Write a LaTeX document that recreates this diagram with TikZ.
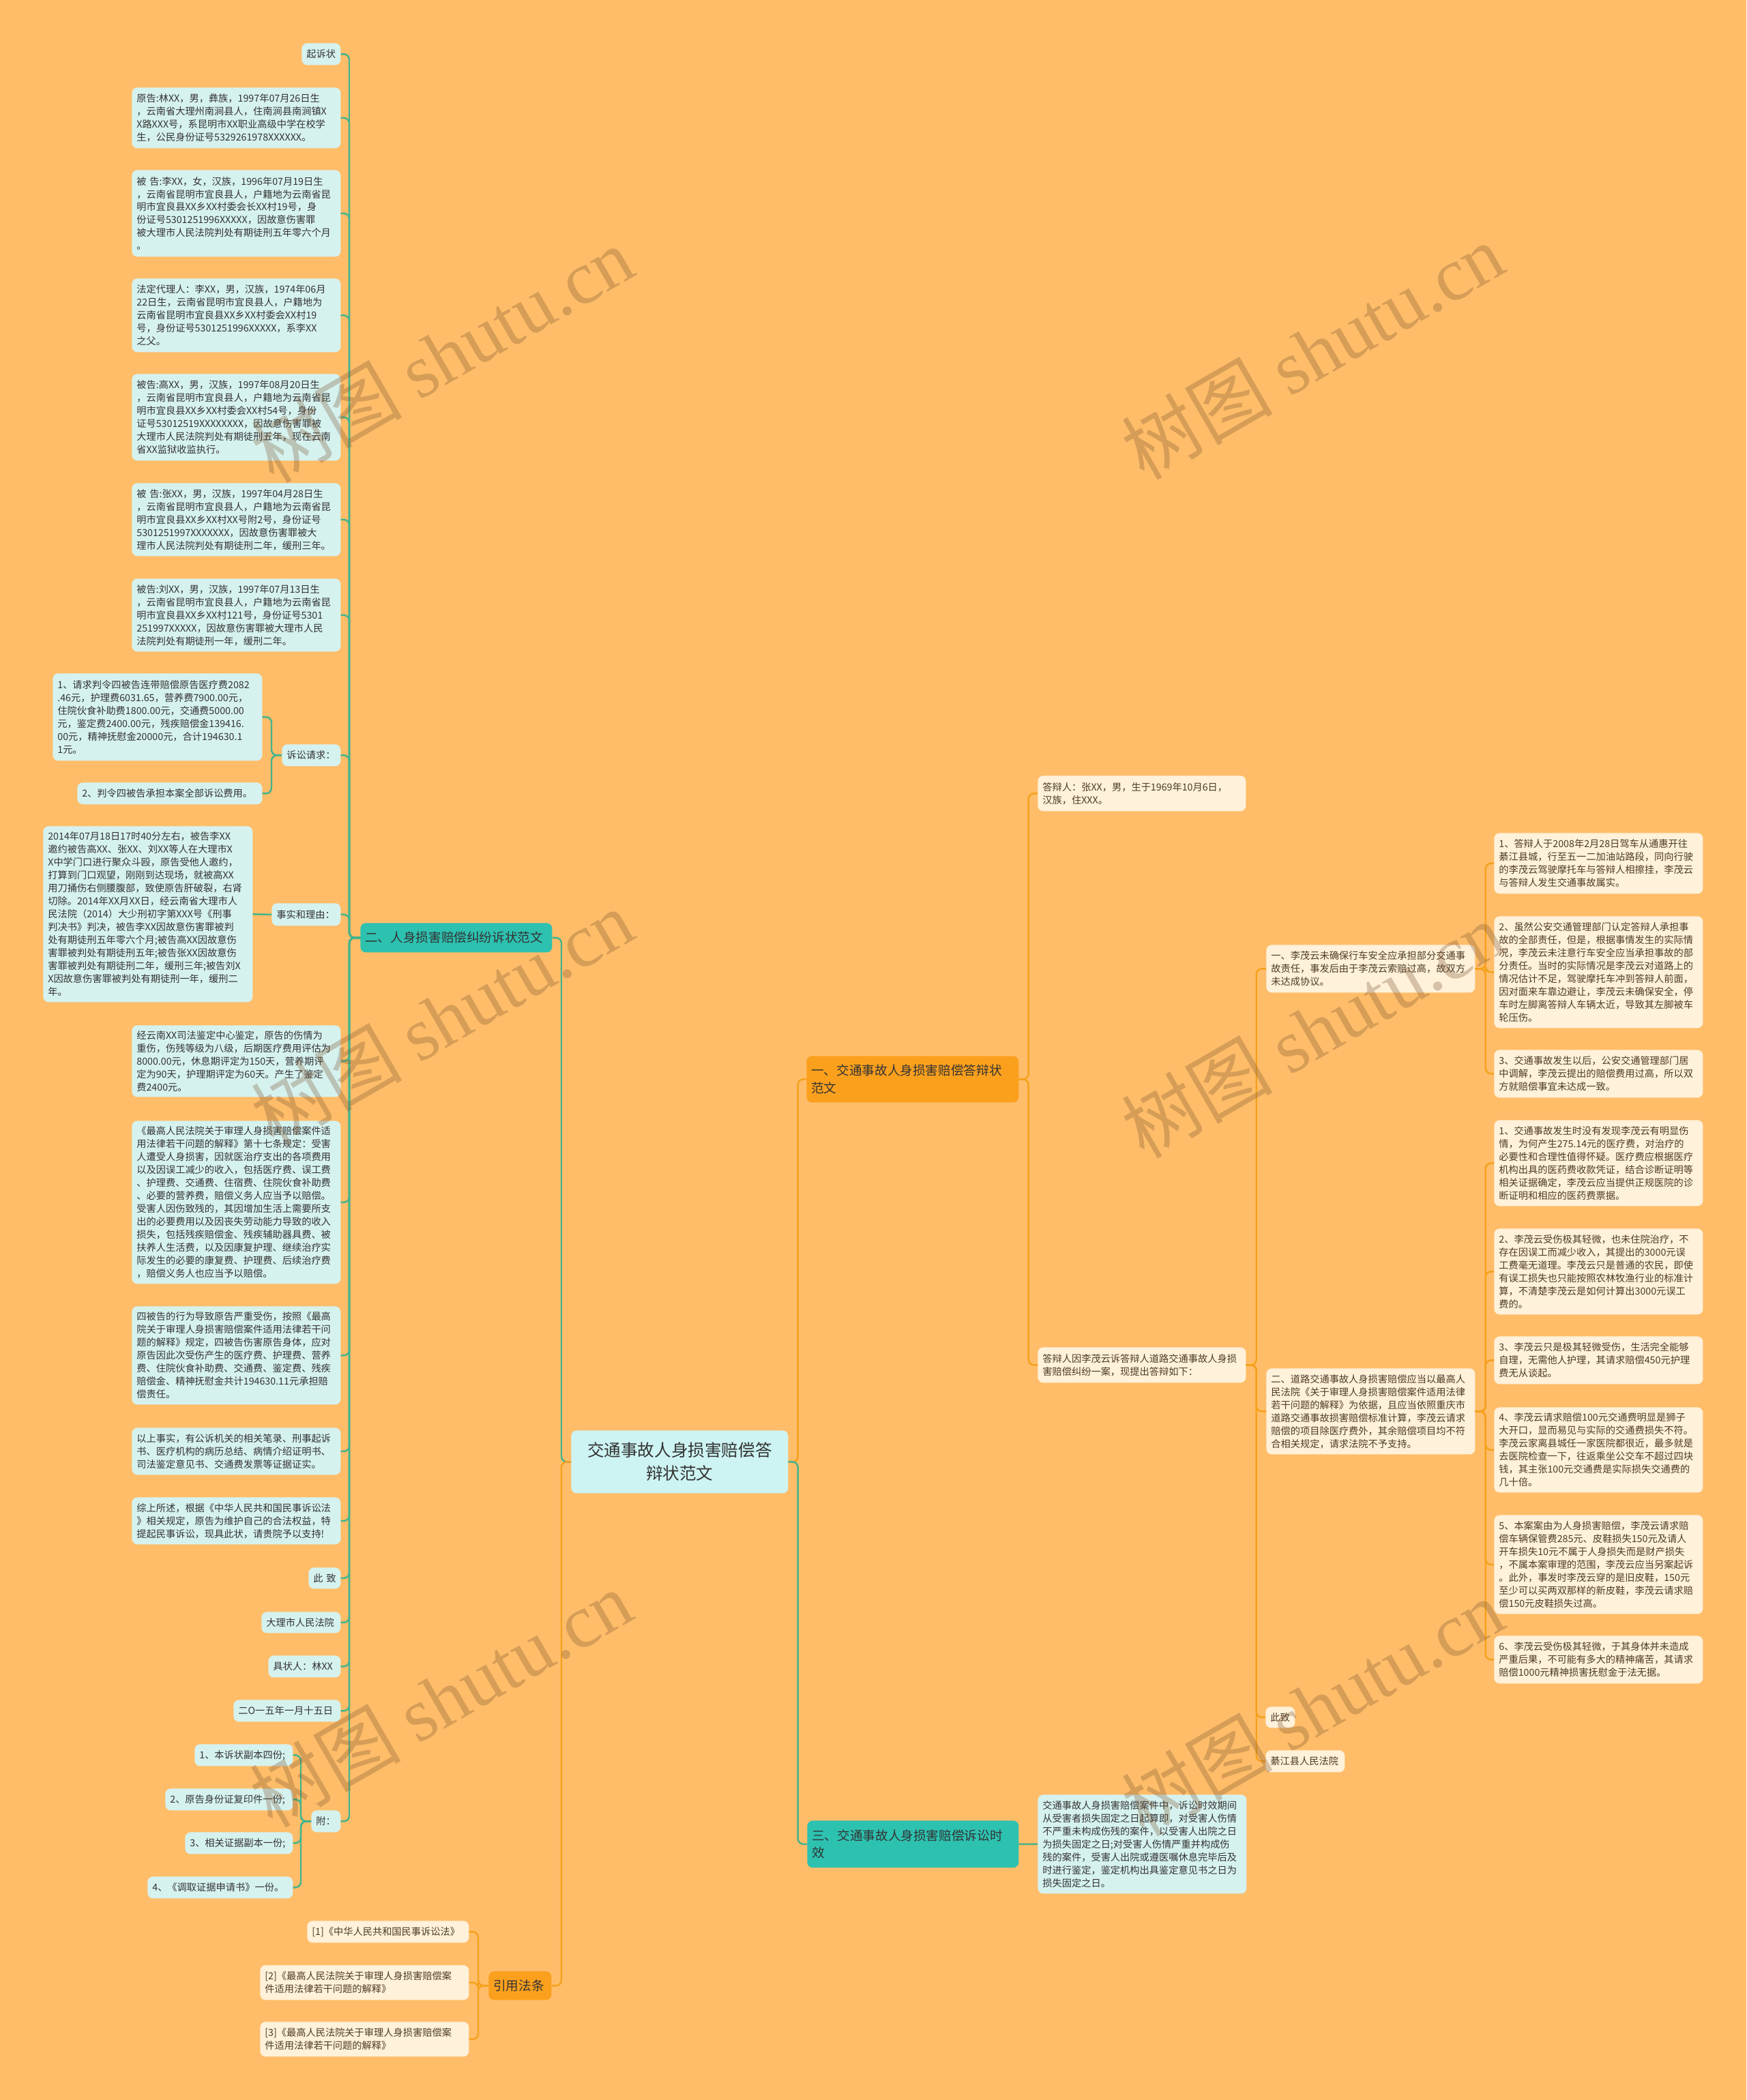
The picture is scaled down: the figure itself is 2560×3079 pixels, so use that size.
\documentclass[tikz,border=0pt]{standalone}
\usepackage{fontspec}
\setmainfont{Noto Sans CJK SC}
\newfontfamily\wmserif{Liberation Serif}
\usepackage{xcolor}
\usepackage{tikz}
\usetikzlibrary{positioning}

\definecolor{bgorange}{HTML}{FFBD69}
\definecolor{tealbox}{HTML}{2DC1B0}
\definecolor{cyanbox}{HTML}{D6F2EF}
\definecolor{rootbox}{HTML}{CDF4F2}
\definecolor{orangebox}{HTML}{FBA01D}
\definecolor{creambox}{HTML}{FFF1DA}
\definecolor{tealline}{HTML}{43B48D}
\definecolor{orangeline}{HTML}{F5A11C}
\definecolor{inkdark}{HTML}{333333}
\definecolor{inkbrown}{HTML}{4D3B26}
\definecolor{wmbrown}{HTML}{7A5530}

\begin{document}
\begin{tikzpicture}[
  x=0.02cm, y=-0.02cm,
  sz/.code 2 args={\pgfmathsetmacro\bw{#1*0.02-0.28}\pgfmathsetmacro\bh{#2*0.02}%
    \edef\szset{\noexpand\pgfkeysalso{text width=\bw cm, minimum height=\bh cm}}\szset},
  base/.style={anchor=north west, rounded corners=0.16cm, inner xsep=0.14cm,
               inner ysep=0.05cm, align=left},
  leaf/.style={base, fill=cyanbox, text=inkdark, font=\fontsize{8.1}{10.8}\selectfont},
  cream/.style={base, fill=creambox, text=inkbrown, font=\fontsize{8.1}{10.8}\selectfont},
  tealbr/.style={base, fill=tealbox, text=inkdark, font=\fontsize{10.6}{14.6}\selectfont},
  orangebr/.style={base, fill=orangebox, text=inkdark, font=\fontsize{10.6}{14.6}\selectfont},
  rootnode/.style={base, fill=rootbox, text=inkdark, align=center,
                   font=\fontsize{14}{19.3}\selectfont},
  tlink/.style={draw=tealline, line width=1.4pt, rounded corners=0.16cm},
  olink/.style={draw=orangeline, line width=1.4pt, rounded corners=0.16cm},
  wm/.style={rotate=30, opacity=0.3, text=wmbrown, font=\fontsize{63}{63}\selectfont}
]
\fill[bgorange] (0,0) rectangle (2560,3079);

\node[rootnode, sz={318}{92}] (root) at (837,2097) {交通事故人身损害赔偿答\\辩状范文};

\node[tealbr, sz={281}{43}] (br1) at (528,1353) {二、人身损害赔偿纠纷诉状范文};
\node[orangebr, sz={311}{68}] (br2) at (1182,1548) {一、交通事故人身损害赔偿答辩状\\范文};
\node[tealbr, sz={310}{69}] (br3) at (1183,2669) {三、交通事故人身损害赔偿诉讼时\\效};
\node[orangebr, sz={92}{42}] (cite) at (716,2890) {引用法条};

\node[leaf, sz={57}{32}] (start) at (442,63) {起诉状};
\node[leaf, sz={306}{89}] (plaintiff) at (193,128) {原告:林XX，男，彝族，1997年07月26日生\\，云南省大理州南涧县人，住南涧县南涧镇X\\X路XXX号，系昆明市XX职业高级中学在校学\\生，公民身份证号5329261978XXXXXX。};
\node[leaf, sz={306}{127}] (defLi) at (193,249) {被 告:李XX，女，汉族，1996年07月19日生\\，云南省昆明市宜良县人，户籍地为云南省昆\\明市宜良县XX乡XX村委会长XX村19号，身\\份证号5301251996XXXXX，因故意伤害罪\\被大理市人民法院判处有期徒刑五年零六个月\\。};
\node[leaf, sz={306}{108}] (guardian) at (193,408) {法定代理人：李XX，男，汉族，1974年06月\\22日生，云南省昆明市宜良县人，户籍地为\\云南省昆明市宜良县XX乡XX村委会XX村19\\号，身份证号5301251996XXXXX，系李XX\\之父。};
\node[leaf, sz={306}{127}] (defGao) at (193,548) {被告:高XX，男，汉族，1997年08月20日生\\，云南省昆明市宜良县人，户籍地为云南省昆\\明市宜良县XX乡XX村委会XX村54号，身份\\证号53012519XXXXXXXX，因故意伤害罪被\\大理市人民法院判处有期徒刑五年，现在云南\\省XX监狱收监执行。};
\node[leaf, sz={306}{107}] (defZhang) at (193,708) {被 告:张XX，男，汉族，1997年04月28日生\\，云南省昆明市宜良县人，户籍地为云南省昆\\明市宜良县XX乡XX村XX号附2号，身份证号\\5301251997XXXXXXX，因故意伤害罪被大\\理市人民法院判处有期徒刑二年，缓刑三年。};
\node[leaf, sz={306}{107}] (defLiu) at (193,848) {被告:刘XX，男，汉族，1997年07月13日生\\，云南省昆明市宜良县人，户籍地为云南省昆\\明市宜良县XX乡XX村121号，身份证号5301\\251997XXXXX，因故意伤害罪被大理市人民\\法院判处有期徒刑一年，缓刑二年。};
\node[leaf, sz={86}{32}] (claims) at (413,1091) {诉讼请求：};
\node[leaf, sz={307}{128}] (claim1) at (77,987) {1、请求判令四被告连带赔偿原告医疗费2082\\.46元，护理费6031.65，营养费7900.00元，\\住院伙食补助费1800.00元，交通费5000.00\\元，鉴定费2400.00元，残疾赔偿金139416.\\00元，精神抚慰金20000元，合计194630.1\\1元。};
\node[leaf, sz={271}{32}] (claim2) at (113,1147) {2、判令四被告承担本案全部诉讼费用。};
\node[leaf, sz={101}{33}] (facts) at (398,1324) {事实和理由：};
\node[leaf, sz={307}{258}] (factText) at (63,1211) {2014年07月18日17时40分左右，被告李XX\\邀约被告高XX、张XX、刘XX等人在大理市X\\X中学门口进行聚众斗殴，原告受他人邀约，\\打算到门口观望，刚刚到达现场，就被高XX\\用刀捅伤右侧腰腹部，致使原告肝破裂，右肾\\切除。2014年XX月XX日，经云南省大理市人\\民法院（2014）大少刑初字第XXX号《刑事\\判决书》判决，被告李XX因故意伤害罪被判\\处有期徒刑五年零六个月;被告高XX因故意伤\\害罪被判处有期徒刑五年;被告张XX因故意伤\\害罪被判处有期徒刑二年，缓刑三年;被告刘X\\X因故意伤害罪被判处有期徒刑一年，缓刑二\\年。};
\node[leaf, sz={306}{105}] (appraisal) at (193,1503) {经云南XX司法鉴定中心鉴定，原告的伤情为\\重伤，伤残等级为八级，后期医疗费用评估为\\8000.00元，休息期评定为150天，营养期评\\定为90天，护理期评定为60天。产生了鉴定\\费2400元。};
\node[leaf, sz={306}{239}] (article) at (193,1643) {《最高人民法院关于审理人身损害赔偿案件适\\用法律若干问题的解释》第十七条规定：受害\\人遭受人身损害，因就医治疗支出的各项费用\\以及因误工减少的收入，包括医疗费、误工费\\、护理费、交通费、住宿费、住院伙食补助费\\、必要的营养费，赔偿义务人应当予以赔偿。\\受害人因伤致残的，其因增加生活上需要所支\\出的必要费用以及因丧失劳动能力导致的收入\\损失，包括残疾赔偿金、残疾辅助器具费、被\\扶养人生活费，以及因康复护理、继续治疗实\\际发生的必要的康复费、护理费、后续治疗费\\，赔偿义务人也应当予以赔偿。};
\node[leaf, sz={306}{144}] (liability) at (193,1915) {四被告的行为导致原告严重受伤，按照《最高\\院关于审理人身损害赔偿案件适用法律若干问\\题的解释》规定，四被告伤害原告身体，应对\\原告因此次受伤产生的医疗费、护理费、营养\\费、住院伙食补助费、交通费、鉴定费、残疾\\赔偿金、精神抚慰金共计194630.11元承担赔\\偿责任。};
\node[leaf, sz={306}{69}] (evidence) at (193,2093) {以上事实，有公诉机关的相关笔录、刑事起诉\\书、医疗机构的病历总结、病情介绍证明书、\\司法鉴定意见书、交通费发票等证据证实。};
\node[leaf, sz={306}{69}] (summary) at (193,2195) {综上所述，根据《中华人民共和国民事诉讼法\\》相关规定，原告为维护自己的合法权益，特\\提起民事诉讼，现具此状，请贵院予以支持!};
\node[leaf, sz={47}{31}] (cizhi) at (452,2298) {\mbox{此 致}};
\node[leaf, sz={116}{31}] (court) at (383,2363) {大理市人民法院};
\node[leaf, sz={106}{32}] (signer) at (393,2427) {具状人：林XX};
\node[leaf, sz={157}{32}] (date) at (342,2492) {二O一五年一月十五日};
\node[leaf, sz={43}{32}] (annex) at (456,2654) {附：};
\node[leaf, sz={144}{32}] (annex1) at (285,2557) {1、本诉状副本四份;};
\node[leaf, sz={187}{32}] (annex2) at (242,2622) {2、原告身份证复印件一份;};
\node[leaf, sz={158}{32}] (annex3) at (271,2686) {3、相关证据副本一份;};
\node[leaf, sz={213}{32}] (annex4) at (216,2751) {4、《调取证据申请书》一份。};

\node[cream, sz={237}{32}] (cite1) at (450,2816) {[1]《中华人民共和国民事诉讼法》};
\node[cream, sz={306}{51}] (cite2) at (381,2881) {[2]《最高人民法院关于审理人身损害赔偿案\\件适用法律若干问题的解释》};
\node[cream, sz={306}{51}] (cite3) at (381,2964) {[3]《最高人民法院关于审理人身损害赔偿案\\件适用法律若干问题的解释》};

\node[cream, sz={305}{52}] (respondent) at (1521,1137) {答辩人：张XX，男，生于1969年10月6日，\\汉族，住XXX。};
\node[cream, sz={305}{52}] (intro) at (1521,1975) {答辩人因李茂云诉答辩人道路交通事故人身损\\害赔偿纠纷一案，现提出答辩如下：};
\node[cream, sz={306}{70}] (pointA) at (1856,1385) {一、李茂云未确保行车安全应承担部分交通事\\故责任，事发后由于李茂云索赔过高，故双方\\未达成协议。};
\node[cream, sz={306}{89}] (a1) at (2190,1221) {1、答辩人于2008年2月28日驾车从通惠开往\\綦江县城，行至五一二加油站路段，同向行驶\\的李茂云驾驶摩托车与答辩人相擦挂，李茂云\\与答辩人发生交通事故属实。};
\node[cream, sz={306}{164}] (a2) at (2190,1343) {2、虽然公安交通管理部门认定答辩人承担事\\故的全部责任，但是，根据事情发生的实际情\\况，李茂云未注意行车安全应当承担事故的部\\分责任。当时的实际情况是李茂云对道路上的\\情况估计不足，驾驶摩托车冲到答辩人前面，\\因对面来车靠边避让，李茂云未确保安全，停\\车时左脚离答辩人车辆太近，导致其左脚被车\\轮压伤。};
\node[cream, sz={306}{70}] (a3) at (2190,1539) {3、交通事故发生以后，公安交通管理部门居\\中调解，李茂云提出的赔偿费用过高，所以双\\方就赔偿事宜未达成一致。};
\node[cream, sz={306}{126}] (pointB) at (1856,2006) {二、道路交通事故人身损害赔偿应当以最高人\\民法院《关于审理人身损害赔偿案件适用法律\\若干问题的解释》为依据，且应当依照重庆市\\道路交通事故损害赔偿标准计算，李茂云请求\\赔偿的项目除医疗费外，其余赔偿项目均不符\\合相关规定，请求法院不予支持。};
\node[cream, sz={306}{126}] (b1) at (2190,1642) {1、交通事故发生时没有发现李茂云有明显伤\\情，为何产生275.14元的医疗费，对治疗的\\必要性和合理性值得怀疑。医疗费应根据医疗\\机构出具的医药费收款凭证，结合诊断证明等\\相关证据确定，李茂云应当提供正规医院的诊\\断证明和相应的医药费票据。};
\node[cream, sz={306}{126}] (b2) at (2190,1801) {2、李茂云受伤极其轻微，也未住院治疗，不\\存在因误工而减少收入，其提出的3000元误\\工费毫无道理。李茂云只是普通的农民，即使\\有误工损失也只能按照农林牧渔行业的标准计\\算，不清楚李茂云是如何计算出3000元误工\\费的。};
\node[cream, sz={306}{70}] (b3) at (2190,1959) {3、李茂云只是极其轻微受伤，生活完全能够\\自理，无需他人护理，其请求赔偿450元护理\\费无从谈起。};
\node[cream, sz={306}{125}] (b4) at (2190,2063) {4、李茂云请求赔偿100元交通费明显是狮子\\大开口，显而易见与实际的交通费损失不符。\\李茂云家离县城任一家医院都很近，最多就是\\去医院检查一下，往返乘坐公交车不超过四块\\钱，其主张100元交通费是实际损失交通费的\\几十倍。};
\node[cream, sz={306}{145}] (b5) at (2190,2221) {5、本案案由为人身损害赔偿，李茂云请求赔\\偿车辆保管费285元、皮鞋损失150元及请人\\开车损失10元不属于人身损失而是财产损失\\，不属本案审理的范围，李茂云应当另案起诉\\。此外，事发时李茂云穿的是旧皮鞋，150元\\至少可以买两双那样的新皮鞋，李茂云请求赔\\偿150元皮鞋损失过高。};
\node[cream, sz={306}{70}] (b6) at (2190,2398) {6、李茂云受伤极其轻微，于其身体并未造成\\严重后果，不可能有多大的精神痛苦，其请求\\赔偿1000元精神损害抚慰金于法无据。};
\node[cream, sz={43}{31}] (cizhiB) at (1855,2502) {此致};
\node[cream, sz={116}{32}] (courtB) at (1855,2566) {綦江县人民法院};
\node[leaf, sz={306}{145}] (limit) at (1521,2631) {交通事故人身损害赔偿案件中，诉讼时效期间\\从受害者损失固定之日起算即，对受害人伤情\\不严重未构成伤残的案件，以受害人出院之日\\为损失固定之日;对受害人伤情严重并构成伤\\残的案件，受害人出院或遵医嘱休息完毕后及\\时进行鉴定，鉴定机构出具鉴定意见书之日为\\损失固定之日。};

\draw[tlink] (root.west) -- ++(-14,0) |- (br1.east);
\draw[olink] (root.west) -- ++(-14,0) |- (cite.east);
\draw[olink] (root.east) -- ++(14,0) |- (br2.west);
\draw[tlink] (root.east) -- ++(14,0) |- (br3.west);

\draw[tlink] (br1.west) -- ++(-16,0) |- (start.east);
\draw[tlink] (br1.west) -- ++(-16,0) |- (plaintiff.east);
\draw[tlink] (br1.west) -- ++(-16,0) |- (defLi.east);
\draw[tlink] (br1.west) -- ++(-16,0) |- (guardian.east);
\draw[tlink] (br1.west) -- ++(-16,0) |- (defGao.east);
\draw[tlink] (br1.west) -- ++(-16,0) |- (defZhang.east);
\draw[tlink] (br1.west) -- ++(-16,0) |- (defLiu.east);
\draw[tlink] (br1.west) -- ++(-16,0) |- (claims.east);
\draw[tlink] (br1.west) -- ++(-16,0) |- (facts.east);
\draw[tlink] (br1.west) -- ++(-16,0) |- (appraisal.east);
\draw[tlink] (br1.west) -- ++(-16,0) |- (article.east);
\draw[tlink] (br1.west) -- ++(-16,0) |- (liability.east);
\draw[tlink] (br1.west) -- ++(-16,0) |- (evidence.east);
\draw[tlink] (br1.west) -- ++(-16,0) |- (summary.east);
\draw[tlink] (br1.west) -- ++(-16,0) |- (cizhi.east);
\draw[tlink] (br1.west) -- ++(-16,0) |- (court.east);
\draw[tlink] (br1.west) -- ++(-16,0) |- (signer.east);
\draw[tlink] (br1.west) -- ++(-16,0) |- (date.east);
\draw[tlink] (br1.west) -- ++(-16,0) |- (annex.east);
\draw[tlink] (claims.west) -- ++(-15,0) |- (claim1.east);
\draw[tlink] (claims.west) -- ++(-15,0) |- (claim2.east);
\draw[tlink] (facts.west) -- (factText.east);
\draw[tlink] (annex.west) -- ++(-15,0) |- (annex1.east);
\draw[tlink] (annex.west) -- ++(-15,0) |- (annex2.east);
\draw[tlink] (annex.west) -- ++(-15,0) |- (annex3.east);
\draw[tlink] (annex.west) -- ++(-15,0) |- (annex4.east);

\draw[olink] (cite.west) -- ++(-15,0) |- (cite1.east);
\draw[olink] (cite.west) -- ++(-15,0) |- (cite2.east);
\draw[olink] (cite.west) -- ++(-15,0) |- (cite3.east);

\draw[olink] (br2.east) -- ++(14,0) |- (respondent.west);
\draw[olink] (br2.east) -- ++(14,0) |- (intro.west);
\draw[olink] (intro.east) -- ++(15,0) |- (pointA.west);
\draw[olink] (intro.east) -- ++(15,0) |- (pointB.west);
\draw[olink] (intro.east) -- ++(15,0) |- (cizhiB.west);
\draw[olink] (intro.east) -- ++(15,0) |- (courtB.west);
\draw[olink] (pointA.east) -- ++(15,0) |- (a1.west);
\draw[olink] (pointA.east) -- ++(15,0) |- (a2.west);
\draw[olink] (pointA.east) -- ++(15,0) |- (a3.west);
\draw[olink] (pointB.east) -- ++(15,0) |- (b1.west);
\draw[olink] (pointB.east) -- ++(15,0) |- (b2.west);
\draw[olink] (pointB.east) -- ++(15,0) |- (b3.west);
\draw[olink] (pointB.east) -- ++(15,0) |- (b4.west);
\draw[olink] (pointB.east) -- ++(15,0) |- (b5.west);
\draw[olink] (pointB.east) -- ++(15,0) |- (b6.west);
\draw[tlink] (br3.east) -- (limit.west);

\node[wm] (wm1) at (648,520) {树图 {\wmserif shutu.cn}};
\node[wm] (wm2) at (1924,515) {树图 {\wmserif shutu.cn}};
\node[wm] (wm3) at (648,1492) {树图 {\wmserif shutu.cn}};
\node[wm] (wm4) at (1924,1510) {树图 {\wmserif shutu.cn}};
\node[wm] (wm5) at (646,2490) {树图 {\wmserif shutu.cn}};
\node[wm] (wm6) at (1924,2503) {树图 {\wmserif shutu.cn}};
\end{tikzpicture}
\end{document}
